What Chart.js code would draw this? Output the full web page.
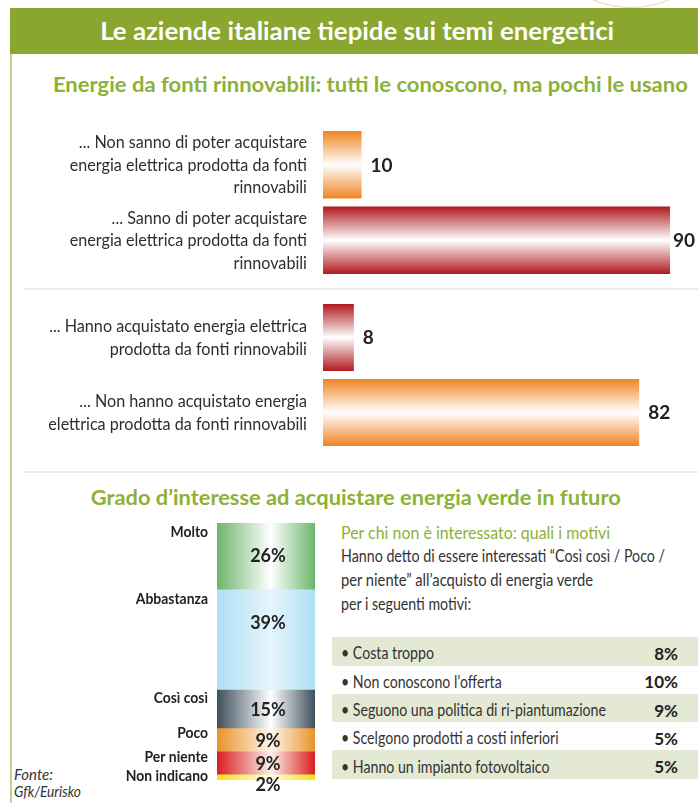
<!DOCTYPE html>
<html>
<head>
<meta charset="utf-8">
<script src="https://cdn.jsdelivr.net/npm/chart.js@4.4.1/dist/chart.umd.min.js"></script>
<style>
  body { margin: 0; width: 698px; height: 803px; overflow: hidden; position: relative; background: #fff;
         font-family: Lato, "Open Sans", sans-serif; color: #333; }
  .abs { position: absolute; white-space: nowrap; }
  .ln span { display: inline-block; }
  .c { text-align: center; }
  .c span { transform-origin: center; }
  .l span { transform-origin: left; }
  #header { left: 10px; top: 8px; width: 688px; height: 46px; background: #8aa62f; }
  #vline { left: 10px; top: 54px; width: 2px; height: 749px; background: #bcd394; }
  .sep { left: 24px; width: 674px; height: 2px; background: #eaeddf; }
  #logo { left: 532px; top: -190px; width: 196px; height: 196px; border-radius: 50%; border: 1px solid #ead2c4; }
  .green { color: #8db136; font-weight: bold; }
  canvas { position: absolute; }
  #reasons { left: 332px; top: 637px; width: 366px; height: 145px; }
  .row { position: absolute; left: 0; width: 366px; height: 28.6px; }
  .row.alt { background: #e4e9d4; }
  .rt { position: absolute; left: 9px; top: 8.4px; font-size: 16.5px; line-height: 16.5px; transform-origin: left; white-space: nowrap; }
  .rv { position: absolute; right: 20px; top: 8px; font-size: 17px; line-height: 17px; font-weight: bold; color: #222; }
</style>
</head>
<body>
<div id="logo" class="abs"></div>
<div id="header" class="abs"></div>
<div id="vline" class="abs"></div>
<div class="abs ln c" style="left:0;width:714px;top:18.7px;font-size:24px;line-height:24px;color:#fff;font-weight:bold">
  <span data-w="514">Le aziende italiane tiepide sui temi energetici</span></div>
<div class="abs ln c green" style="left:0;width:741px;top:74.3px;font-size:20px;line-height:20px">
  <span data-w="635">Energie da fonti rinnovabili: tutti le conoscono, ma pochi le usano</span></div>
<div class="abs sep" style="top:288px"></div>
<div class="abs sep" style="top:471px"></div>
<div class="abs ln c green" style="left:0;width:712px;top:487.3px;font-size:20px;line-height:20px">
  <span data-w="530">Grado d’interesse ad acquistare energia verde in futuro</span></div>

<div class="abs ln l" style="left:341px;top:525.4px;font-size:16.5px;line-height:16.5px;color:#8db136">
  <span data-w="269">Per chi non è interessato: quali i motivi</span></div>
<div class="abs ln l" style="left:341px;top:548.4px;font-size:16.5px;line-height:16.5px">
  <span data-w="324">Hanno detto di essere interessati “Così così / Poco /</span></div>
<div class="abs ln l" style="left:341px;top:572.4px;font-size:16.5px;line-height:16.5px">
  <span data-w="252">per niente” all’acquisto di energia verde</span></div>
<div class="abs ln l" style="left:341px;top:596.4px;font-size:16.5px;line-height:16.5px">
  <span data-w="130">per i seguenti motivi:</span></div>
<div id="reasons" class="abs"></div>

<div class="abs ln l" style="left:14px;top:767px;font-size:15px;line-height:15px;font-style:italic">
  <span>Fonte:</span></div>
<div class="abs ln l" style="left:14px;top:784px;font-size:15px;line-height:15px;font-style:italic">
  <span data-w="67">Gfk/Eurisko</span></div>

<canvas id="knowChart" width="698" height="151" style="left:0;top:127px"></canvas>
<canvas id="boughtChart" width="698" height="150" style="left:0;top:300px"></canvas>
<canvas id="interestChart" width="330" height="303" style="left:0;top:500px"></canvas>

<script>
// dati
const knowLabels = [
  ['... Non sanno di poter acquistare', 'energia elettrica prodotta da fonti', 'rinnovabili'],
  ['... Sanno di poter acquistare', 'energia elettrica prodotta da fonti', 'rinnovabili']
];
const knowValues = [10, 90];

const boughtLabels = [
  ['... Hanno acquistato energia elettrica', 'prodotta da fonti rinnovabili'],
  ['... Non hanno acquistato energia', 'elettrica prodotta da fonti rinnovabili']
];
const boughtValues = [8, 82];

const interestLabels = ['Molto', 'Abbastanza', 'Così così', 'Poco', 'Per niente', 'Non indicano'];
const interestValues = [26, 39, 15, 9, 9, 2];

const reasonLabels = ['Costa troppo', 'Non conoscono l’offerta', 'Seguono una politica di ri-piantumazione',
  'Scelgono prodotti a costi inferiori', 'Hanno un impianto fotovoltaico'];
const reasonValues = [8, 10, 9, 5, 5];

// colori
const ORANGE = '#ef8421';
const RED = '#b01a1f';
const knowColors = [ORANGE, RED];
const boughtColors = [RED, ORANGE];
const interestColors = [
  ['#6cb56c', '#ffffff'],
  ['#b0dff4', '#e6f5fc'],
  ['#3e505c', '#ffffff'],
  ['#e9922b', '#fff6ea'],
  ['#d81e1e', '#fbefe8'],
  ['#f6e01a', '#fffbe2']
];

const LABEL_SX = 0.95;
const BAR_PCT = 0.893;

function condText(ctx, text, x, y, sx) {
  ctx.save();
  ctx.translate(x, y);
  ctx.scale(sx, 1);
  ctx.fillText(text, 0, 0);
  ctx.restore();
}

// etichette barre orizzontali
const barLabels = {
  id: 'barLabels',
  afterDatasetsDraw(chart) {
    const ctx = chart.ctx;
    const meta = chart.getDatasetMeta(0);
    meta.data.forEach((bar, i) => {
      const lines = chart.data.labels[i];
      ctx.save();
      ctx.font = '17px Lato';
      ctx.fillStyle = '#2e2e2e';
      ctx.textAlign = 'right';
      ctx.textBaseline = 'alphabetic';
      const lh = 22.5;
      const y0 = bar.y - (lines.length - 1) * lh / 2;
      lines.forEach((t, k) => condText(ctx, t, 307, y0 + k * lh + 6, LABEL_SX));

      const v = String(chart.data.datasets[0].data[i]);
      ctx.font = 'bold 19px Lato';
      ctx.fillStyle = '#222';
      ctx.textAlign = 'left';
      const w = ctx.measureText(v).width;
      let x = bar.x + 9;
      if (x + w > chart.width - 3) x = chart.width - 3 - w;
      ctx.fillText(v, x, bar.y + 6.8);
      ctx.restore();
    });
  }
};

function barGradient(colors) {
  return function (c) {
    const chart = c.chart;
    const base = colors[c.dataIndex];
    if (!chart.chartArea) return base;
    const ys = chart.scales.y;
    const cy = ys.getPixelForValue(c.dataIndex);
    const half = ys.height / chart.data.labels.length * BAR_PCT / 2;
    const g = chart.ctx.createLinearGradient(0, cy - half, 0, cy + half);
    g.addColorStop(0, base);
    g.addColorStop(0.5, '#ffffff');
    g.addColorStop(1, base);
    return g;
  };
}

function hbarChart(id, labels, values, colors) {
  return new Chart(document.getElementById(id), {
    type: 'bar',
    data: {
      labels: labels,
      datasets: [{
        data: values,
        backgroundColor: barGradient(colors),
        borderWidth: 0,
        categoryPercentage: 1,
        barPercentage: BAR_PCT
      }]
    },
    options: {
      indexAxis: 'y',
      responsive: false,
      animation: false,
      layout: { padding: { left: 323, right: 0, top: 0, bottom: 0 } },
      plugins: { legend: { display: false }, tooltip: { enabled: false } },
      scales: {
        x: { display: false, min: 0, max: 97.25 },
        y: { display: false }
      }
    },
    plugins: [barLabels]
  });
}

hbarChart('knowChart', knowLabels, knowValues, knowColors);
hbarChart('boughtChart', boughtLabels, boughtValues, boughtColors);

// barra impilata
const stackLabels = {
  id: 'stackLabels',
  afterDatasetsDraw(chart) {
    const ctx = chart.ctx;
    const area = chart.chartArea;
    const mid = (area.left + area.right) / 2 + 2;
    chart.data.datasets.forEach((ds, di) => {
      const bar = chart.getDatasetMeta(di).data[0];
      const top = Math.min(bar.y, bar.base);
      const bottom = Math.max(bar.y, bar.base);
      const h = bottom - top;
      ctx.save();
      ctx.font = 'bold 16px Lato';
      ctx.fillStyle = '#222';
      ctx.textAlign = 'right';
      ctx.textBaseline = 'alphabetic';
      condText(ctx, ds.label, area.left - 9, top + Math.min(8, h * 0.18) + 5.7, 0.87);

      ctx.font = 'bold 18px Lato';
      ctx.textAlign = 'center';
      const cy = h < 12 ? bottom + 5 : Math.min(top + h / 2, top + 33);
      ctx.fillText(ds.data[0] + '%', mid, cy + 6.4);
      ctx.restore();
    });
  }
};

function stackGradient(stops) {
  return function (c) {
    const area = c.chart.chartArea;
    if (!area) return stops[0];
    const g = c.chart.ctx.createLinearGradient(area.left, 0, area.right, 0);
    g.addColorStop(0, stops[0]);
    g.addColorStop(0.55, stops[1]);
    g.addColorStop(1, stops[0]);
    return g;
  };
}

const interestDatasets = [];
for (let i = interestLabels.length - 1; i >= 0; i--) {
  interestDatasets.push({
    label: interestLabels[i],
    data: [interestValues[i]],
    backgroundColor: stackGradient(interestColors[i]),
    borderWidth: 0,
    categoryPercentage: 1,
    barPercentage: 1
  });
}

new Chart(document.getElementById('interestChart'), {
  type: 'bar',
  data: { labels: [''], datasets: interestDatasets },
  options: {
    responsive: false,
    animation: false,
    layout: { padding: { left: 217, right: 15, top: 23, bottom: 23 } },
    plugins: { legend: { display: false }, tooltip: { enabled: false } },
    scales: {
      x: { display: false, stacked: true },
      y: { display: false, stacked: true, min: 0, max: 100 }
    }
  },
  plugins: [stackLabels]
});

// tabella motivi
const reasons = document.getElementById('reasons');
reasonLabels.forEach((t, i) => {
  const row = document.createElement('div');
  row.className = 'row' + (i % 2 === 0 ? ' alt' : '');
  row.style.top = (i * 28.3) + 'px';
  row.innerHTML = '<span class="rt">• ' + t + '</span><span class="rv">' + reasonValues[i] + '%</span>';
  reasons.appendChild(row);
});
const rts = reasons.querySelectorAll('.rt');
let widest = 0;
rts.forEach(el => { widest = Math.max(widest, el.getBoundingClientRect().width); });
const rsx = 265 / widest;
rts.forEach(el => { el.style.transform = 'scaleX(' + rsx + ')'; });

// testi condensati
document.querySelectorAll('[data-w]').forEach(el => {
  const s = Number(el.dataset.w) / el.getBoundingClientRect().width;
  el.style.transform = 'scaleX(' + s + ')';
});
</script>
</body>
</html>
